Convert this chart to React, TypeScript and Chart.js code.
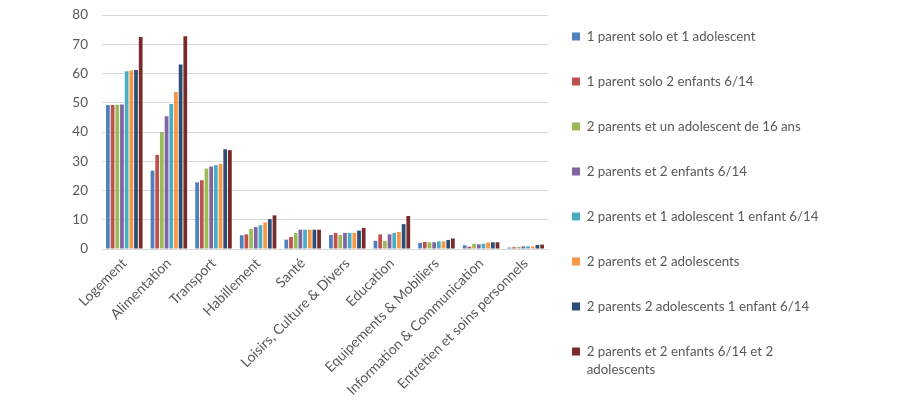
import { useEffect, useRef } from 'react';
import { Chart, registerables } from 'chart.js';

Chart.register(...registerables);

const categories = [
  'Logement',
  'Alimentation',
  'Transport',
  'Habillement',
  'Santé',
  'Loisirs, Culture & Divers',
  'Education',
  'Equipements & Mobiliers',
  'Information & Communication',
  'Entretien et soins personnels',
];

const seriesNames = [
  '1 parent solo et 1 adolescent',
  '1 parent solo 2 enfants 6/14',
  '2 parents et un adolescent de 16 ans',
  '2 parents et 2 enfants 6/14',
  '2 parents et 1 adolescent 1 enfant 6/14',
  '2 parents et 2 adolescents',
  '2 parents 2 adolescents 1 enfant 6/14',
  '2 parents et 2 enfants 6/14 et 2 adolescents',
];

// legend lines (last entry wraps on two lines in the reference)
const legendLines = [
  ['1 parent solo et 1 adolescent'],
  ['1 parent solo 2 enfants 6/14'],
  ['2 parents et un adolescent de 16 ans'],
  ['2 parents et 2 enfants 6/14'],
  ['2 parents et 1 adolescent 1 enfant 6/14'],
  ['2 parents et 2 adolescents'],
  ['2 parents 2 adolescents 1 enfant 6/14'],
  ['2 parents et 2 enfants 6/14 et 2', 'adolescents'],
];

const soloAdo = [49.2, 26.8, 22.8, 4.7, 3.2, 4.8, 2.8, 2.1, 1.3, 0.5];
const soloDeuxEnfants = [49.2, 32.2, 23.5, 5.0, 4.1, 5.5, 5.0, 2.4, 0.8, 0.6];
const deuxParentsAdo16 = [49.3, 40.0, 27.5, 6.9, 5.5, 4.8, 2.8, 2.3, 1.8, 0.7];
const deuxParentsDeuxEnfants = [49.4, 45.4, 28.2, 7.5, 6.6, 5.5, 5.0, 2.3, 1.6, 0.9];
const deuxParentsAdoEnfant = [60.8, 49.6, 28.7, 8.1, 6.6, 5.5, 5.5, 2.6, 1.8, 0.9];
const deuxParentsDeuxAdos = [61.0, 53.7, 29.1, 9.1, 6.6, 5.5, 5.8, 2.6, 2.2, 0.9];
const deuxParentsDeuxAdosEnfant = [61.2, 63.1, 34.1, 10.2, 6.6, 6.3, 8.5, 3.1, 2.3, 1.4];
const deuxParentsDeuxEnfantsDeuxAdos = [72.5, 72.7, 33.8, 11.5, 6.6, 7.2, 11.3, 3.6, 2.3, 1.5];

const seriesValues = [
  soloAdo,
  soloDeuxEnfants,
  deuxParentsAdo16,
  deuxParentsDeuxEnfants,
  deuxParentsAdoEnfant,
  deuxParentsDeuxAdos,
  deuxParentsDeuxAdosEnfant,
  deuxParentsDeuxEnfantsDeuxAdos,
];

const colors = ['#4F81BD', '#C0504D', '#9BBB59', '#8064A2', '#4BACC6', '#F79646', '#2C4D75', '#772C2A'];

const yTicks = [0, 10, 20, 30, 40, 50, 60, 70, 80];

const FONT = 'Lato';
const TEXT = '#595959';
const ROW_STEP = 45; // distance between legend rows
const ROW_H = 21; // height reserved per legend row
const LEG_PAD = ROW_STEP - ROW_H; // legend padding
const LEG_LINE = 18; // line height of a wrapped legend label
const SWATCH = 8;
const LEGEND_LEFT = 548; // where the plot area ends
const LEGEND_TEXT_TARGET = 232; // width of the widest legend label in the reference

export default function App() {
  const ref = useRef<HTMLCanvasElement | null>(null);

  useEffect(() => {
    document.body.style.margin = '0';
    if (!ref.current) return;

    // size the legend font so that the widest label matches the reference
    const mctx = document.createElement('canvas').getContext('2d')!;
    mctx.font = `100px ${FONT}`;
    const widest = legendLines.reduce((m, l) => Math.max(m, mctx.measureText(l[0]).width), 0);
    const legSize = Math.max(11, Math.min(15, (LEGEND_TEXT_TARGET / widest) * 100));
    mctx.font = `${legSize}px ${FONT}`;
    const textW = legendLines.reduce((m, l) => Math.max(m, mctx.measureText(l[0]).width), 0);
    const legendWidth = LEG_PAD + SWATCH + legSize / 2 + textW + 10;
    const padRight = Math.max(0, 900 - LEGEND_LEFT - legendWidth);

    const legendWrapPlugin = {
      id: 'legendWrap',
      afterDraw(chart: any) {
        const lg = chart.legend;
        if (!lg || !lg.legendHitBoxes) return;
        const ctx = chart.ctx;
        ctx.save();
        ctx.font = `${legSize}px ${FONT}`;
        ctx.textAlign = 'left';
        ctx.textBaseline = 'middle';
        legendLines.forEach((lines, i) => {
          const hb = lg.legendHitBoxes[i];
          if (!hb) return;
          const cy = hb.top + ROW_H / 2;
          ctx.fillStyle = colors[i];
          ctx.fillRect(hb.left, cy - SWATCH / 2, SWATCH, SWATCH);
          ctx.fillStyle = TEXT;
          for (let k = 1; k < lines.length; k++) {
            ctx.fillText(lines[k], hb.left + SWATCH + legSize / 2, cy + k * LEG_LINE);
          }
        });
        ctx.restore();
      },
    };

    const chart = new Chart(ref.current, {
      type: 'bar',
      data: {
        labels: categories,
        datasets: seriesNames.map((name, i) => ({
          label: name,
          data: seriesValues[i],
          backgroundColor: colors[i],
          borderWidth: 0,
          categoryPercentage: 0.84,
          barPercentage: 0.8,
        })),
      },
      options: {
        animation: false,
        responsive: false,
        devicePixelRatio: 1,
        layout: { padding: { left: 0, right: padRight, top: 2, bottom: 0 } },
        plugins: {
          tooltip: { enabled: false },
          legend: {
            position: 'right',
            align: 'start',
            maxWidth: 600,
            labels: {
              boxWidth: SWATCH,
              boxHeight: ROW_H,
              padding: LEG_PAD,
              color: TEXT,
              font: { family: FONT, size: legSize },
              generateLabels: (c: any) => {
                const items = Chart.defaults.plugins.legend.labels.generateLabels(c);
                items.forEach((it: any, i: number) => {
                  it.text = legendLines[i][0];
                  it.lineWidth = 0;
                  it.fillStyle = 'rgba(0,0,0,0)';
                  it.strokeStyle = 'rgba(0,0,0,0)';
                });
                return items;
              },
            },
          },
        },
        scales: {
          x: {
            grid: { display: false, drawTicks: false },
            border: { display: true, color: '#D9D9D9' },
            ticks: {
              autoSkip: false,
              minRotation: 45,
              maxRotation: 45,
              padding: 6,
              color: TEXT,
              font: { family: FONT, size: 14 },
            },
            afterFit: (s: any) => {
              s.height = 151;
            },
          },
          y: {
            min: 0,
            max: 80,
            afterBuildTicks: (s: any) => {
              s.ticks = yTicks.map((v) => ({ value: v }));
            },
            grid: { color: '#D9D9D9', drawTicks: true, tickLength: 14, tickColor: 'transparent' },
            border: { display: false },
            ticks: {
              autoSkip: false,
              padding: 0,
              color: TEXT,
              font: { family: FONT, size: 13.5, lineHeight: '30px' },
            },
            afterFit: (s: any) => {
              s.width = 102;
            },
          },
        },
      },
      plugins: [legendWrapPlugin],
    } as any);
    return () => chart.destroy();
  }, []);

  return (
    <div style={{ width: 900, height: 400 }}>
      <canvas ref={ref} width={900} height={400} style={{ display: 'block' }} />
    </div>
  );
}
